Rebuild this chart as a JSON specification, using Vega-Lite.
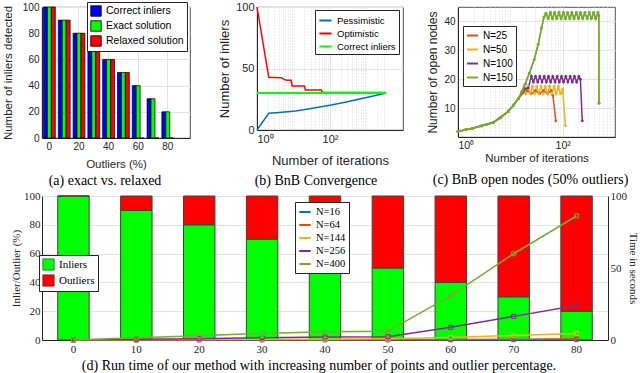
{
"$schema": "https://vega.github.io/schema/vega-lite/v6.json",
"background": "white",
"padding": {"left": 1, "right": 0, "top": 0, "bottom": 0},
"spacing": 1,
"columns": 1,
"align": "none",
"resolve": {"scale": {"x": "independent", "y": "independent", "color": "independent"}, "legend": {"color": "independent"}},
"config": {
  "font": "Liberation Sans",
  "axis": {"labelFont": "Liberation Sans", "labelFontSize": 10, "labelColor": "#262626", "titleFont": "Liberation Sans", "titleFontSize": 11.5, "titleFontWeight": "normal", "titleColor": "#262626", "domainColor": "#262626", "ticks": false, "gridColor": "#e3e3e3", "labelPadding": 3, "titlePadding": 4},
  "legend": {"labelFont": "Liberation Sans", "labelColor": "black", "padding": 3, "rowPadding": 2, "fillColor": "white", "strokeColor": "#262626"},
  "title": {"orient": "bottom", "font": "Liberation Serif", "fontSize": 14, "fontWeight": "normal", "color": "black", "frame": "group", "anchor": "middle"},
  "view": {"stroke": "#262626", "strokeWidth": 0.8}
},
"concat": [
{"hconcat": [
 {
  "width": 148, "height": 131,
  "title": {"text": "(a) exact vs. relaxed", "dx": -11, "offset": 4},
  "data": {"values": [
   {"outliers": 0, "series": "Correct inliers", "inliers": 100},
   {"outliers": 0, "series": "Exact solution", "inliers": 100},
   {"outliers": 0, "series": "Relaxed solution", "inliers": 100},
   {"outliers": 10, "series": "Correct inliers", "inliers": 90},
   {"outliers": 10, "series": "Exact solution", "inliers": 90},
   {"outliers": 10, "series": "Relaxed solution", "inliers": 90},
   {"outliers": 20, "series": "Correct inliers", "inliers": 80},
   {"outliers": 20, "series": "Exact solution", "inliers": 80},
   {"outliers": 20, "series": "Relaxed solution", "inliers": 80},
   {"outliers": 30, "series": "Correct inliers", "inliers": 70},
   {"outliers": 30, "series": "Exact solution", "inliers": 70},
   {"outliers": 30, "series": "Relaxed solution", "inliers": 70},
   {"outliers": 40, "series": "Correct inliers", "inliers": 60},
   {"outliers": 40, "series": "Exact solution", "inliers": 60},
   {"outliers": 40, "series": "Relaxed solution", "inliers": 60},
   {"outliers": 50, "series": "Correct inliers", "inliers": 50},
   {"outliers": 50, "series": "Exact solution", "inliers": 50},
   {"outliers": 50, "series": "Relaxed solution", "inliers": 50},
   {"outliers": 60, "series": "Correct inliers", "inliers": 40},
   {"outliers": 60, "series": "Exact solution", "inliers": 40},
   {"outliers": 60, "series": "Relaxed solution", "inliers": 0},
   {"outliers": 70, "series": "Correct inliers", "inliers": 30},
   {"outliers": 70, "series": "Exact solution", "inliers": 30},
   {"outliers": 70, "series": "Relaxed solution", "inliers": 0},
   {"outliers": 80, "series": "Correct inliers", "inliers": 20},
   {"outliers": 80, "series": "Exact solution", "inliers": 20},
   {"outliers": 80, "series": "Relaxed solution", "inliers": 0}
  ]},
  "mark": {"type": "bar", "stroke": "black", "strokeWidth": 0.7},
  "encoding": {
   "x": {"field": "outliers", "type": "ordinal", "scale": {"domain": [0,10,20,30,40,50,60,70,80,90], "paddingInner": 0.2, "paddingOuter": 0.1},
         "axis": {"values": [0,20,40,60,80], "labelAngle": 0, "grid": true, "bandPosition": 0.5, "title": "Outliers (%)", "titlePadding": 7}},
   "xOffset": {"field": "series", "type": "nominal", "scale": {"domain": ["Correct inliers","Exact solution","Relaxed solution"], "paddingInner": 0, "paddingOuter": 0}},
   "y": {"field": "inliers", "type": "quantitative", "scale": {"domain": [0,100]}, "axis": {"values": [0,20,40,60,80,100], "grid": true, "title": "Number of inliers detected", "titlePadding": 9}},
   "color": {"field": "series", "type": "nominal", "scale": {"domain": ["Correct inliers","Exact solution","Relaxed solution"], "range": ["#0000FF","#00FF00","#FF0000"]},
             "legend": {"orient": "none", "legendX": 45, "legendY": -5, "title": null, "symbolType": "square", "symbolSize": 110, "symbolStrokeColor": "black", "symbolStrokeWidth": 0.8, "labelFontSize": 10.5, "rowPadding": 1}}
  }
 },
 {"hconcat": [
 {
  "width": 146, "height": 123,
  "title": {"text": "(b) BnB Convergence", "dx": -14, "offset": 7},
  "data": {"values": [
   {"iter": 1, "inliers": 0, "series": "Pessimistic"},
   {"iter": 2.1, "inliers": 13.6, "series": "Pessimistic"},
   {"iter": 4, "inliers": 14.2, "series": "Pessimistic"},
   {"iter": 11.5, "inliers": 15.4, "series": "Pessimistic"},
   {"iter": 30, "inliers": 17.5, "series": "Pessimistic"},
   {"iter": 108, "inliers": 20.3, "series": "Pessimistic"},
   {"iter": 300, "inliers": 23, "series": "Pessimistic"},
   {"iter": 1000, "inliers": 26.5, "series": "Pessimistic"},
   {"iter": 3090, "inliers": 29.6, "series": "Pessimistic"},
   {"iter": 3450, "inliers": 30, "series": "Pessimistic"},
   {"iter": 1, "inliers": 100, "series": "Optimistic"},
   {"iter": 2.1, "inliers": 42.8, "series": "Optimistic"},
   {"iter": 4.6, "inliers": 42.5, "series": "Optimistic"},
   {"iter": 5.2, "inliers": 41.5, "series": "Optimistic"},
   {"iter": 6.1, "inliers": 40.6, "series": "Optimistic"},
   {"iter": 8.6, "inliers": 40.4, "series": "Optimistic"},
   {"iter": 9.2, "inliers": 35.8, "series": "Optimistic"},
   {"iter": 20, "inliers": 35.8, "series": "Optimistic"},
   {"iter": 21, "inliers": 32.5, "series": "Optimistic"},
   {"iter": 58, "inliers": 32.5, "series": "Optimistic"},
   {"iter": 62, "inliers": 30.5, "series": "Optimistic"},
   {"iter": 3450, "inliers": 30.5, "series": "Optimistic"},
   {"iter": 1, "inliers": 30, "series": "Correct inliers"},
   {"iter": 3450, "inliers": 30, "series": "Correct inliers"}
  ]},
  "layer": [
   {"transform": [{"filter": "datum.series != 'Correct inliers'"}],
    "mark": {"type": "line", "strokeWidth": 1.5},
    "encoding": {
     "x": {"field": "iter", "type": "quantitative", "scale": {"type": "log", "domain": [1, 3450]},
           "axis": {"orient": "bottom", "values": [1, 100], "labelExpr": "datum.value == 1 ? '10⁰' : '10²'", "grid": true, "title": "Number of iterations", "titleFontSize": 13, "labelFontSize": 11, "titlePadding": 10}},
     "y": {"field": "inliers", "type": "quantitative", "scale": {"domain": [0, 100]}, "axis": {"values": [0, 50, 100], "grid": true, "title": "Number of inliers", "titleFontSize": 13, "labelFontSize": 11}},
     "color": {"field": "series", "type": "nominal", "scale": {"domain": ["Pessimistic","Optimistic","Correct inliers"], "range": ["#0072BD","#FF0000","#00FF00"]},
               "legend": {"orient": "none", "legendX": 58, "legendY": 3, "title": null, "symbolType": "stroke", "symbolStrokeWidth": 2, "symbolSize": 150, "labelFontSize": 9.5, "rowPadding": 1}}
    }},
   {"transform": [{"filter": "datum.series == 'Correct inliers'"}],
    "mark": {"type": "line", "strokeWidth": 2},
    "encoding": {
     "x": {"field": "iter", "type": "quantitative", "axis": {"orient": "bottom", "values": [2,3,4,5,6,7,8,9,10,20,30,40,50,60,70,80,90,200,300,400,500,600,700,800,900,1000,2000,3000], "labels": false, "ticks": false, "domain": false, "grid": true, "gridDash": [1, 2], "gridColor": "#d8d8d8", "title": null}},
     "y": {"field": "inliers", "type": "quantitative"},
     "color": {"field": "series", "type": "nominal"}
    }}
  ],
  "resolve": {"axis": {"x": "independent"}}
 },
 {
  "width": 157, "height": 130,
  "title": {"text": "(c) BnB open nodes (50% outliers)", "dx": -6, "offset": 9},
  "data": {"values": [
   {"iter": 1, "nodes": 1.9, "N": "N=25"}, {"iter": 1.9, "nodes": 3, "N": "N=25"}, {"iter": 4.7, "nodes": 5, "N": "N=25"}, {"iter": 9.2, "nodes": 8.9, "N": "N=25"}, {"iter": 14.3, "nodes": 13.3, "N": "N=25"}, {"iter": 18, "nodes": 15.5, "N": "N=25"}, {"iter": 21, "nodes": 16, "N": "N=25"}, {"iter": 25, "nodes": 15, "N": "N=25"}, {"iter": 30, "nodes": 16, "N": "N=25"}, {"iter": 36, "nodes": 15, "N": "N=25"}, {"iter": 43, "nodes": 16, "N": "N=25"}, {"iter": 52, "nodes": 15, "N": "N=25"}, {"iter": 60, "nodes": 16, "N": "N=25"}, {"iter": 65, "nodes": 14.4, "N": "N=25"}, {"iter": 74, "nodes": 5.6, "N": "N=25"},
   {"iter": 1, "nodes": 1.9, "N": "N=50"}, {"iter": 1.9, "nodes": 3, "N": "N=50"}, {"iter": 4.7, "nodes": 5, "N": "N=50"}, {"iter": 9.2, "nodes": 8.9, "N": "N=50"}, {"iter": 14.3, "nodes": 13.3, "N": "N=50"}, {"iter": 18.2, "nodes": 17.5, "N": "N=50"}, {"iter": 19.8, "nodes": 15, "N": "N=50"}, {"iter": 21.8, "nodes": 17.5, "N": "N=50"}, {"iter": 24, "nodes": 15, "N": "N=50"}, {"iter": 26.4, "nodes": 17.5, "N": "N=50"}, {"iter": 29, "nodes": 15, "N": "N=50"}, {"iter": 31.9, "nodes": 17.5, "N": "N=50"}, {"iter": 35.1, "nodes": 15, "N": "N=50"}, {"iter": 38.6, "nodes": 17.5, "N": "N=50"}, {"iter": 42.5, "nodes": 15, "N": "N=50"}, {"iter": 46.7, "nodes": 17.5, "N": "N=50"}, {"iter": 51.4, "nodes": 15, "N": "N=50"}, {"iter": 56.5, "nodes": 17.5, "N": "N=50"}, {"iter": 62.2, "nodes": 15, "N": "N=50"}, {"iter": 68.4, "nodes": 17.5, "N": "N=50"}, {"iter": 75.2, "nodes": 15, "N": "N=50"}, {"iter": 82.7, "nodes": 17.5, "N": "N=50"}, {"iter": 91, "nodes": 15, "N": "N=50"}, {"iter": 100, "nodes": 16.5, "N": "N=50"}, {"iter": 113, "nodes": 3.9, "N": "N=50"},
   {"iter": 1, "nodes": 1.9, "N": "N=100"}, {"iter": 1.9, "nodes": 3, "N": "N=100"}, {"iter": 4.7, "nodes": 5, "N": "N=100"}, {"iter": 9.2, "nodes": 8.9, "N": "N=100"}, {"iter": 14.3, "nodes": 13.3, "N": "N=100"}, {"iter": 19.2, "nodes": 16.7, "N": "N=100"}, {"iter": 22, "nodes": 17, "N": "N=100"}, {"iter": 25.3, "nodes": 21, "N": "N=100"}, {"iter": 27.5, "nodes": 19, "N": "N=100"}, {"iter": 30.3, "nodes": 21, "N": "N=100"}, {"iter": 33.3, "nodes": 19, "N": "N=100"}, {"iter": 36.6, "nodes": 21, "N": "N=100"}, {"iter": 40.3, "nodes": 19, "N": "N=100"}, {"iter": 44.3, "nodes": 21, "N": "N=100"}, {"iter": 48.7, "nodes": 19, "N": "N=100"}, {"iter": 53.6, "nodes": 21, "N": "N=100"}, {"iter": 59, "nodes": 19, "N": "N=100"}, {"iter": 64.9, "nodes": 21, "N": "N=100"}, {"iter": 71.4, "nodes": 19, "N": "N=100"}, {"iter": 78.5, "nodes": 21, "N": "N=100"}, {"iter": 86.4, "nodes": 19, "N": "N=100"}, {"iter": 95, "nodes": 21, "N": "N=100"}, {"iter": 104, "nodes": 19, "N": "N=100"}, {"iter": 115, "nodes": 21, "N": "N=100"}, {"iter": 126, "nodes": 19, "N": "N=100"}, {"iter": 139, "nodes": 21, "N": "N=100"}, {"iter": 153, "nodes": 19, "N": "N=100"}, {"iter": 168, "nodes": 21, "N": "N=100"}, {"iter": 185, "nodes": 19, "N": "N=100"}, {"iter": 204, "nodes": 21, "N": "N=100"}, {"iter": 218, "nodes": 20, "N": "N=100"}, {"iter": 237, "nodes": 5.6, "N": "N=100"},
   {"iter": 1, "nodes": 1.9, "N": "N=150"}, {"iter": 1.4, "nodes": 2.5, "N": "N=150"}, {"iter": 1.9, "nodes": 3, "N": "N=150"}, {"iter": 2.8, "nodes": 3.8, "N": "N=150"}, {"iter": 3.5, "nodes": 4.3, "N": "N=150"}, {"iter": 4.7, "nodes": 5, "N": "N=150"}, {"iter": 6.5, "nodes": 6.6, "N": "N=150"}, {"iter": 9.2, "nodes": 8.9, "N": "N=150"}, {"iter": 11.5, "nodes": 11, "N": "N=150"}, {"iter": 14.3, "nodes": 13.3, "N": "N=150"}, {"iter": 16.5, "nodes": 15.6, "N": "N=150"}, {"iter": 19.2, "nodes": 18.3, "N": "N=150"}, {"iter": 23, "nodes": 22, "N": "N=150"}, {"iter": 28.5, "nodes": 26.7, "N": "N=150"}, {"iter": 34, "nodes": 32, "N": "N=150"}, {"iter": 39.5, "nodes": 37.8, "N": "N=150"}, {"iter": 44, "nodes": 41.5, "N": "N=150"}, {"iter": 48, "nodes": 42.8, "N": "N=150"}, {"iter": 52.8, "nodes": 41, "N": "N=150"}, {"iter": 58.1, "nodes": 43, "N": "N=150"}, {"iter": 63.9, "nodes": 41, "N": "N=150"}, {"iter": 70.3, "nodes": 43, "N": "N=150"}, {"iter": 77.3, "nodes": 41, "N": "N=150"}, {"iter": 85, "nodes": 43, "N": "N=150"}, {"iter": 93.5, "nodes": 41, "N": "N=150"}, {"iter": 103, "nodes": 43, "N": "N=150"}, {"iter": 113, "nodes": 41, "N": "N=150"}, {"iter": 124, "nodes": 43, "N": "N=150"}, {"iter": 137, "nodes": 41, "N": "N=150"}, {"iter": 150, "nodes": 43, "N": "N=150"}, {"iter": 165, "nodes": 41, "N": "N=150"}, {"iter": 182, "nodes": 43, "N": "N=150"}, {"iter": 200, "nodes": 41, "N": "N=150"}, {"iter": 220, "nodes": 43, "N": "N=150"}, {"iter": 242, "nodes": 41, "N": "N=150"}, {"iter": 266, "nodes": 43, "N": "N=150"}, {"iter": 293, "nodes": 41, "N": "N=150"}, {"iter": 322, "nodes": 43, "N": "N=150"}, {"iter": 354, "nodes": 41, "N": "N=150"}, {"iter": 390, "nodes": 43, "N": "N=150"}, {"iter": 429, "nodes": 41, "N": "N=150"}, {"iter": 472, "nodes": 43, "N": "N=150"}, {"iter": 490, "nodes": 42, "N": "N=150"}, {"iter": 495, "nodes": 11.7, "N": "N=150"}
  ]},
  "layer": [
   {"mark": {"type": "line", "strokeWidth": 1.5, "point": {"filled": true, "size": 8}},
    "encoding": {
     "x": {"field": "iter", "type": "quantitative", "scale": {"type": "log", "domain": [1, 1000]},
           "axis": {"orient": "bottom", "values": [1, 100], "labelExpr": "datum.value == 1 ? '10⁰' : '10²'", "grid": true, "title": "Number of iterations", "titleFontSize": 11.5, "labelFontSize": 10.5, "titlePadding": 2}},
     "y": {"field": "nodes", "type": "quantitative", "scale": {"domain": [1.7, 45]}, "axis": {"values": [10, 20, 30, 40], "grid": true, "title": "Number of open nodes", "titleFontSize": 12}},
     "color": {"field": "N", "type": "nominal", "scale": {"domain": ["N=25","N=50","N=100","N=150"], "range": ["#D95319","#EDB120","#7E2F8E","#77AC30"]},
               "legend": {"orient": "none", "legendX": 5, "legendY": 19, "title": null, "symbolType": "stroke", "symbolStrokeWidth": 2, "symbolSize": 120, "labelFontSize": 10, "rowPadding": 2}}
    }},
   {"transform": [{"filter": "datum.N == 'N=150'"}],
    "mark": {"type": "line", "strokeWidth": 1.5, "point": {"filled": true, "size": 8}},
    "encoding": {
     "x": {"field": "iter", "type": "quantitative", "axis": {"orient": "bottom", "values": [2,3,4,5,6,7,8,9,10,20,30,40,50,60,70,80,90,200,300,400,500,600,700,800,900], "labels": false, "ticks": false, "domain": false, "grid": true, "gridDash": [1, 2], "gridColor": "#d8d8d8", "title": null}},
     "y": {"field": "nodes", "type": "quantitative"},
     "color": {"field": "N", "type": "nominal"}
    }}
  ],
  "resolve": {"axis": {"x": "independent"}}
 }
 ], "spacing": 22,
  "resolve": {"scale": {"x": "independent", "y": "independent", "color": "independent"}, "legend": {"color": "independent"}}}
], "spacing": 27,
 "resolve": {"scale": {"x": "independent", "y": "independent", "color": "independent", "xOffset": "independent"}, "legend": {"color": "independent"}}},
{
 "width": 566, "height": 144,
 "view": {"stroke": null},
 "title": {"text": "(d) Run time of our method with increasing number of points and outlier percentage.", "offset": 5, "dx": -6},
 "layer": [
  {"data": {"values": [
    {"outliers": 0, "type": "Inliers", "percent": 100}, {"outliers": 0, "type": "Outliers", "percent": 0},
    {"outliers": 10, "type": "Inliers", "percent": 90}, {"outliers": 10, "type": "Outliers", "percent": 10},
    {"outliers": 20, "type": "Inliers", "percent": 80}, {"outliers": 20, "type": "Outliers", "percent": 20},
    {"outliers": 30, "type": "Inliers", "percent": 70}, {"outliers": 30, "type": "Outliers", "percent": 30},
    {"outliers": 40, "type": "Inliers", "percent": 60}, {"outliers": 40, "type": "Outliers", "percent": 40},
    {"outliers": 50, "type": "Inliers", "percent": 50}, {"outliers": 50, "type": "Outliers", "percent": 50},
    {"outliers": 60, "type": "Inliers", "percent": 40}, {"outliers": 60, "type": "Outliers", "percent": 60},
    {"outliers": 70, "type": "Inliers", "percent": 30}, {"outliers": 70, "type": "Outliers", "percent": 70},
    {"outliers": 80, "type": "Inliers", "percent": 20}, {"outliers": 80, "type": "Outliers", "percent": 80}
   ]},
   "mark": {"type": "bar", "stroke": "#404040", "strokeWidth": 1},
   "encoding": {
    "x": {"field": "outliers", "type": "ordinal", "scale": {"paddingInner": 0.5, "paddingOuter": 0.25},
          "axis": {"labelAngle": 0, "title": null, "labelFont": "Liberation Serif", "labelFontSize": 11, "domainColor": "#262626", "labelPadding": 3}},
    "y": {"field": "percent", "type": "quantitative", "stack": "zero", "scale": {"domain": [0, 100]},
          "axis": {"values": [0, 20, 40, 60, 80, 100], "grid": true, "title": "Inlier/Outlier (%)", "labelFont": "Liberation Serif", "labelFontSize": 11, "titleFont": "Liberation Serif", "titleFontSize": 11, "titlePadding": 2, "labelPadding": 2, "minExtent": 0}},
    "order": {"field": "type", "sort": "ascending"},
    "color": {"field": "type", "type": "nominal", "scale": {"domain": ["Inliers", "Outliers"], "range": ["#00FF00", "#FF0000"]},
              "legend": {"orient": "none", "legendX": -3, "legendY": 59, "title": null, "symbolType": "square", "symbolSize": 130, "symbolStrokeColor": "#262626", "symbolStrokeWidth": 0.6, "labelFont": "Liberation Serif", "labelFontSize": 11, "rowPadding": 1}}
   }},
  {"data": {"values": [
    {"outliers": 0, "N": "N=16", "seconds": 0}, {"outliers": 10, "N": "N=16", "seconds": 0.05}, {"outliers": 20, "N": "N=16", "seconds": 0.1}, {"outliers": 30, "N": "N=16", "seconds": 0.1}, {"outliers": 40, "N": "N=16", "seconds": 0.1}, {"outliers": 50, "N": "N=16", "seconds": 0.1}, {"outliers": 60, "N": "N=16", "seconds": 0.15}, {"outliers": 70, "N": "N=16", "seconds": 0.2}, {"outliers": 80, "N": "N=16", "seconds": 0.2},
    {"outliers": 0, "N": "N=64", "seconds": 0}, {"outliers": 10, "N": "N=64", "seconds": 0.1}, {"outliers": 20, "N": "N=64", "seconds": 0.15}, {"outliers": 30, "N": "N=64", "seconds": 0.2}, {"outliers": 40, "N": "N=64", "seconds": 0.25}, {"outliers": 50, "N": "N=64", "seconds": 0.3}, {"outliers": 60, "N": "N=64", "seconds": 0.4}, {"outliers": 70, "N": "N=64", "seconds": 0.55}, {"outliers": 80, "N": "N=64", "seconds": 0.8},
    {"outliers": 0, "N": "N=144", "seconds": 0}, {"outliers": 10, "N": "N=144", "seconds": 0.3}, {"outliers": 20, "N": "N=144", "seconds": 0.4}, {"outliers": 30, "N": "N=144", "seconds": 0.5}, {"outliers": 40, "N": "N=144", "seconds": 0.6}, {"outliers": 50, "N": "N=144", "seconds": 0.8}, {"outliers": 60, "N": "N=144", "seconds": 1.8}, {"outliers": 70, "N": "N=144", "seconds": 3.2}, {"outliers": 80, "N": "N=144", "seconds": 4.6},
    {"outliers": 0, "N": "N=256", "seconds": 0}, {"outliers": 10, "N": "N=256", "seconds": 0.5}, {"outliers": 20, "N": "N=256", "seconds": 0.9}, {"outliers": 30, "N": "N=256", "seconds": 1.6}, {"outliers": 40, "N": "N=256", "seconds": 2.1}, {"outliers": 50, "N": "N=256", "seconds": 2.3}, {"outliers": 60, "N": "N=256", "seconds": 8.8}, {"outliers": 70, "N": "N=256", "seconds": 16.4}, {"outliers": 80, "N": "N=256", "seconds": 23.9},
    {"outliers": 0, "N": "N=400", "seconds": 0}, {"outliers": 10, "N": "N=400", "seconds": 1.6}, {"outliers": 20, "N": "N=400", "seconds": 3}, {"outliers": 30, "N": "N=400", "seconds": 4.6}, {"outliers": 40, "N": "N=400", "seconds": 5.8}, {"outliers": 50, "N": "N=400", "seconds": 6}, {"outliers": 60, "N": "N=400", "seconds": 30.8}, {"outliers": 70, "N": "N=400", "seconds": 59.9}, {"outliers": 80, "N": "N=400", "seconds": 86.1}
   ]},
   "mark": {"type": "line", "strokeWidth": 1.5, "point": {"shape": "square", "filled": false, "size": 16, "strokeWidth": 1}},
   "encoding": {
    "x": {"field": "outliers", "type": "ordinal"},
    "y": {"field": "seconds", "type": "quantitative", "scale": {"domain": [0, 100]},
          "axis": {"orient": "right", "values": [0, 50, 100], "title": "Time in seconds", "labelFont": "Liberation Serif", "labelFontSize": 11, "titleFont": "Liberation Serif", "titleFontSize": 11, "domainColor": "#262626", "titlePadding": 1, "labelPadding": 2, "minExtent": 0}},
    "color": {"field": "N", "type": "nominal", "scale": {"domain": ["N=16","N=64","N=144","N=256","N=400"], "range": ["#0072BD","#D95319","#EDB120","#7E2F8E","#77AC30"]},
              "legend": {"orient": "none", "legendX": 253, "legendY": 6, "title": null, "symbolType": "stroke", "symbolStrokeWidth": 2, "symbolSize": 130, "labelFont": "Liberation Serif", "labelFontSize": 10.5, "rowPadding": 0}}
   }}
 ],
 "resolve": {"scale": {"y": "independent", "color": "independent"}}
}
]
}
